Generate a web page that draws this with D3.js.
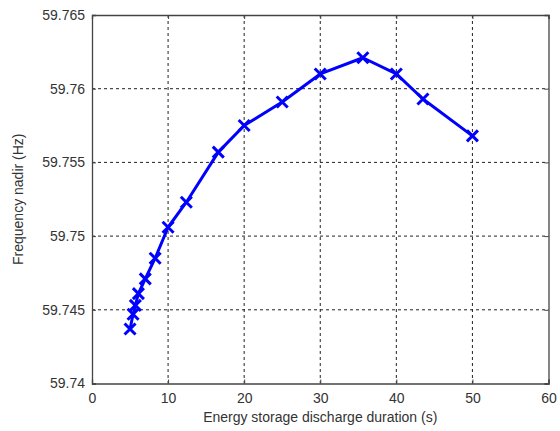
<!DOCTYPE html>
<html><head><meta charset="utf-8">
<script src="https://cdn.jsdelivr.net/npm/d3@7"></script>
<style>body{margin:0;background:#fff}svg{display:block}</style>
</head><body>
<script>
const durations = [5, 5.4, 5.7, 6.1, 7.0, 8.3, 10, 12.4, 16.6, 20, 25, 30, 35.6, 40, 43.5, 50];
const nadir = [59.7437, 59.7447, 59.7453, 59.7461, 59.7471, 59.7485, 59.7506, 59.7523, 59.7557, 59.7575, 59.7591, 59.7610, 59.7621, 59.7610, 59.7593, 59.7568];
const xTicks = [0, 10, 20, 30, 40, 50, 60];
const yTicks = [59.74, 59.745, 59.75, 59.755, 59.76, 59.765];
const yTickLabels = ["59.74", "59.745", "59.75", "59.755", "59.76", "59.765"];
const xLabel = "Energy storage discharge duration (s)";
const yLabel = "Frequency nadir (Hz)";

const W = 560, H = 431;
const L = 92, R = 548.5, T = 15, B = 383.5;
const svg = d3.select("body").append("svg").attr("width", W).attr("height", H);
const x = d3.scaleLinear().domain([0, 60]).range([L, R]);
const y = d3.scaleLinear().domain([59.74, 59.765]).range([B, T]);
const font = "Liberation Sans, Arial, sans-serif";

// grid
const g = svg.append("g");
g.selectAll("line.vx").data(xTicks.slice(1, -1)).join("line")
  .attr("x1", d => x(d)).attr("x2", d => x(d)).attr("y1", T).attr("y2", B)
  .attr("stroke", "#222").attr("stroke-width", 1).attr("stroke-dasharray", "3,3");
g.selectAll("line.hy").data(yTicks.slice(1, -1)).join("line")
  .attr("y1", d => y(d)).attr("y2", d => y(d)).attr("x1", L).attr("x2", R)
  .attr("stroke", "#222").attr("stroke-width", 1).attr("stroke-dasharray", "3,3");

// axes
const xAxis = d3.axisBottom(x).tickValues(xTicks).tickSize(-4).tickPadding(10).tickFormat(d3.format("d"));
const yAxis = d3.axisLeft(y).tickValues(yTicks).tickSize(-4).tickPadding(7).tickFormat((d, i) => yTickLabels[i]);
const xa = svg.append("g").attr("transform", `translate(0,${B})`).call(xAxis);
const ya = svg.append("g").attr("transform", `translate(${L},0)`).call(yAxis);
const xt = svg.append("g").attr("transform", `translate(0,${T})`).call(d3.axisTop(x).tickValues(xTicks).tickSize(-4).tickFormat(""));
const yr = svg.append("g").attr("transform", `translate(${R},0)`).call(d3.axisRight(y).tickValues(yTicks).tickSize(-4).tickFormat(""));
[xa, ya, xt, yr].forEach(a => {
  a.select(".domain").attr("stroke", "#444").attr("stroke-width", 1.3);
  a.selectAll(".tick line").attr("stroke", "#444");
  a.selectAll(".tick text").attr("fill", "#333").style("font-family", font).style("font-size", "14px");
});

// line
svg.append("path").datum(durations.map((d, i) => [d, nadir[i]]))
  .attr("fill", "none").attr("stroke", "#0000ff").attr("stroke-width", 3)
  .attr("stroke-linejoin", "round")
  .attr("d", d3.line().x(d => x(d[0])).y(d => y(d[1])));

// markers
const s = 5.5;
svg.append("g").selectAll("path").data(durations.map((d, i) => [d, nadir[i]])).join("path")
  .attr("d", d => { const cx = x(d[0]), cy = y(d[1]);
    return `M${cx - s},${cy - s}L${cx + s},${cy + s}M${cx - s},${cy + s}L${cx + s},${cy - s}`; })
  .attr("stroke", "#0000ff").attr("stroke-width", 3).attr("fill", "none");

// labels
svg.append("text").attr("x", (L + R) / 2).attr("y", 422).attr("text-anchor", "middle")
  .attr("fill", "#333").style("font-family", font).style("font-size", "14px").text(xLabel);
svg.append("text").attr("transform", `translate(23,${(T + B) / 2}) rotate(-90)`).attr("text-anchor", "middle")
  .attr("fill", "#333").style("font-family", font).style("font-size", "14px").text(yLabel);
</script>
</body></html>
